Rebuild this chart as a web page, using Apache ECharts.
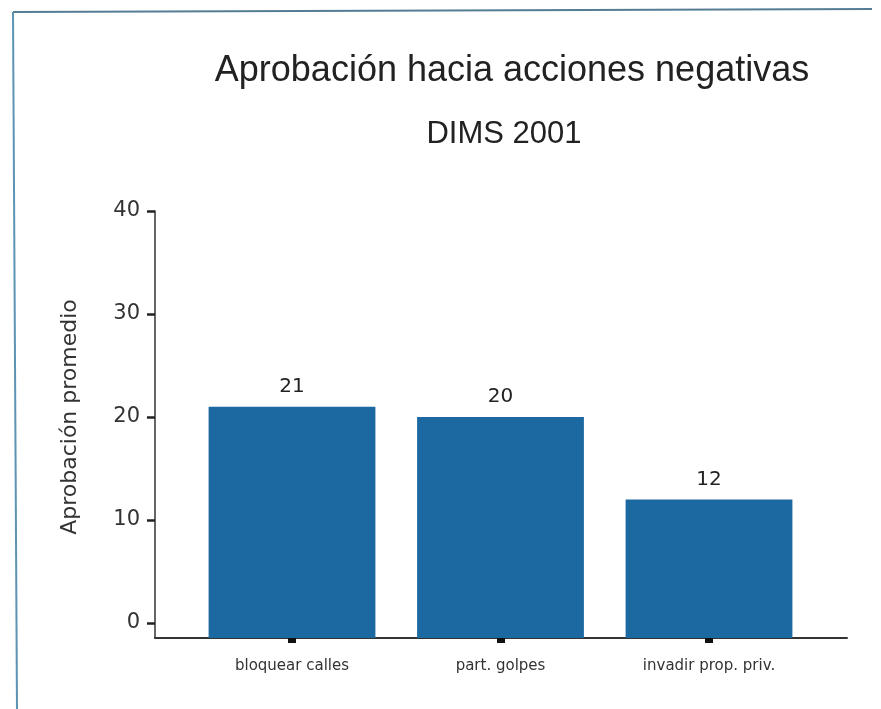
<!DOCTYPE html>
<html>
<head>
<meta charset="utf-8">
<script src="https://cdn.jsdelivr.net/npm/echarts@6/dist/echarts.min.js"></script>
<style>
  html, body { margin: 0; padding: 0; background: #ffffff; }
  #chart { width: 881px; height: 709px; }
</style>
</head>
<body>
<div id="chart"></div>
<script>
// Mean approval of negative actions (DIMS 2001)
const categories = ['bloquear calles', 'part. golpes', 'invadir prop. priv.'];
const approval = [21, 20, 12];

const titleText = 'Aprobación hacia acciones negativas';
const subtitleText = 'DIMS 2001';
const yAxisName = 'Aprobación promedio';
const yMin = 0, yMax = 40, yStep = 10;

// Plot frame in pixels: value 40 at top, value 0 at zeroY, the drawn baseline a bit lower
const plotTop = 211, zeroY = 623, baseY = 638;
const pxPerUnit = (zeroY - plotTop) / (yMax - yMin);
const barAxisMin = -(baseY - zeroY) / pxPerUnit;   // room below zero down to the baseline

const barColor = '#1c69a2';
const axisFont = 'DejaVu Sans';
const titleFont = 'Liberation Sans';

const chart = echarts.init(document.getElementById('chart'), null, { renderer: 'canvas' });

chart.setOption({
  backgroundColor: '#ffffff',
  animation: false,
  title: [
    {
      text: titleText,
      left: 507, top: 48, textAlign: 'center',
      textStyle: { fontFamily: titleFont, fontSize: 36, fontWeight: 'normal', color: '#222222' }
    },
    {
      text: subtitleText,
      left: 499, top: 114, textAlign: 'center',
      textStyle: { fontFamily: titleFont, fontSize: 31, fontWeight: 'normal', color: '#222222' }
    }
  ],
  graphic: [
    { type: 'line', shape: { x1: 13, y1: 12, x2: 872, y2: 9 },
      style: { stroke: '#557c95', lineWidth: 2 } },
    { type: 'line', shape: { x1: 13, y1: 12, x2: 17, y2: 709 },
      style: { stroke: '#5d93b3', lineWidth: 2 } }
  ],
  grid: [
    // tick labels and ticks (0..40)
    { left: 155, top: plotTop, width: 692, height: zeroY - plotTop },
    // axis lines down to the baseline
    { left: 155, top: plotTop, width: 692, height: baseY - plotTop },
    // bars
    { left: 187.75, top: plotTop, width: 625.5, height: baseY - plotTop }
  ],
  xAxis: [
    { gridIndex: 0, type: 'category', data: categories, show: false },
    {
      gridIndex: 1, type: 'value', min: 0, max: 1,
      axisLine: { show: true, onZero: false, lineStyle: { color: '#333333', width: 2 } },
      axisTick: { show: false }, axisLabel: { show: false }, splitLine: { show: false }
    },
    {
      gridIndex: 2, type: 'category', data: categories,
      axisLine: { show: false, onZero: false },
      axisTick: { show: true, alignWithLabel: true, interval: 0, length: 5,
                  lineStyle: { color: '#111111', width: 8 } },
      axisLabel: { interval: 0, margin: 21, fontFamily: axisFont, fontSize: 15, color: '#333333' }
    }
  ],
  yAxis: [
    {
      gridIndex: 0, type: 'value', min: yMin, max: yMax, interval: yStep,
      name: yAxisName, nameLocation: 'middle', nameGap: 74, nameRotate: 90,
      nameTextStyle: { fontFamily: axisFont, fontSize: 22, color: '#333333' },
      axisLine: { show: false },
      axisTick: { show: true, length: 8, lineStyle: { color: '#222222', width: 2.5 } },
      axisLabel: { margin: 15, fontFamily: axisFont, fontSize: 21, color: '#333333' },
      splitLine: { show: false }
    },
    {
      gridIndex: 1, type: 'value', min: barAxisMin, max: yMax,
      axisLine: { show: true, lineStyle: { color: '#333333', width: 1.5 } },
      axisTick: { show: false }, axisLabel: { show: false }, splitLine: { show: false }
    },
    {
      gridIndex: 2, type: 'value', min: barAxisMin, max: yMax, show: false,
      splitLine: { show: false }
    }
  ],
  series: [
    {
      // bar bodies: zero up to each value
      type: 'bar',
      xAxisIndex: 2, yAxisIndex: 2,
      data: approval,
      barWidth: '80%',
      barGap: '-100%',
      z: 3,
      itemStyle: { color: barColor },
      label: {
        show: true, position: 'top', distance: 10,
        fontFamily: axisFont, fontSize: 20, color: '#222222'
      }
    },
    {
      // bar feet: zero down to the baseline
      type: 'bar',
      xAxisIndex: 2, yAxisIndex: 2,
      data: categories.map(() => barAxisMin),
      barWidth: '80%',
      barGap: '-100%',
      z: 2,
      silent: true,
      itemStyle: { color: barColor },
      label: { show: false }
    }
  ]
});
</script>
</body>
</html>
